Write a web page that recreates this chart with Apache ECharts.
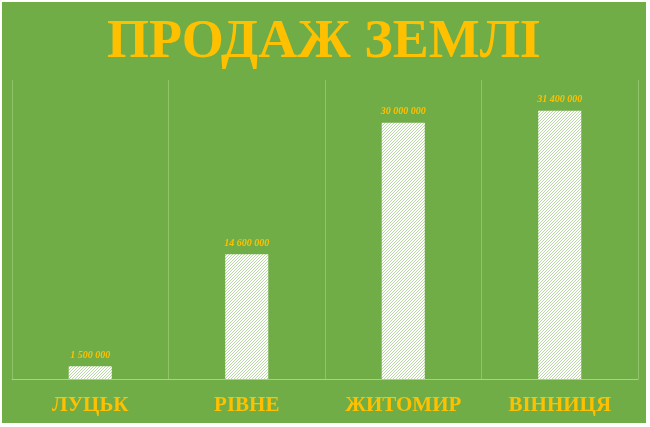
<!DOCTYPE html>
<html><head><meta charset="utf-8">
<script src="https://cdn.jsdelivr.net/npm/echarts@6/dist/echarts.min.js"></script>
<style>
html,body{margin:0;padding:0;background:#fff;}
#c{position:absolute;left:2px;top:2px;width:644px;height:421px;background:#70AD47;}
</style></head><body>
<div id="c"></div>
<script>
const categories = ['ЛУЦЬК', 'РІВНЕ', 'ЖИТОМИР', 'ВІННИЦЯ'];
const values = [1500000, 14600000, 30000000, 31400000];
const titleText = 'ПРОДАЖ ЗЕМЛІ';

function makePattern(){
  const cv = document.createElement('canvas');
  cv.width = 6; cv.height = 6;
  const ctx = cv.getContext('2d');
  ctx.fillStyle = '#ffffff';
  ctx.fillRect(0,0,6,6);
  ctx.strokeStyle = '#b9d8a3';
  ctx.lineWidth = 1;
  for (let k=-6;k<=12;k+=3){
    ctx.beginPath(); ctx.moveTo(k,6); ctx.lineTo(k+6,0); ctx.stroke();
  }
  return cv;
}
function fmt(v){ return String(v).replace(/\B(?=(\d{3})+(?!\d))/g,' '); }

const chart = echarts.init(document.getElementById('c'));
chart.setOption({
  animation:false,
  title:{text:titleText,left:'center',top:9,
    textStyle:{fontFamily:'Liberation Serif',fontWeight:'bold',fontSize:54,color:'#FFC000'}},
  grid:{left:10,right:8,top:78,bottom:44},
  xAxis:{type:'category',data:categories,
    axisLine:{lineStyle:{color:'#A9D08E',width:1}},
    axisTick:{show:false},
    splitLine:{show:true,lineStyle:{color:'#8FC46A',width:1}},
    axisLabel:{color:'#FFC000',fontFamily:'Liberation Serif',fontWeight:'bold',fontSize:21,margin:16}},
  yAxis:{type:'value',min:0,max:35000000,show:false,splitLine:{show:false}},
  series:[{type:'bar',data:values,barWidth:'27.5%',
    itemStyle:{color:{image:makePattern(),repeat:'repeat'}},
    label:{show:true,position:'top',distance:6,formatter:p=>fmt(p.value),
      color:'#FFC000',fontFamily:'Liberation Serif',fontStyle:'italic',fontWeight:'bold',fontSize:10}}]
});
</script></body></html>
